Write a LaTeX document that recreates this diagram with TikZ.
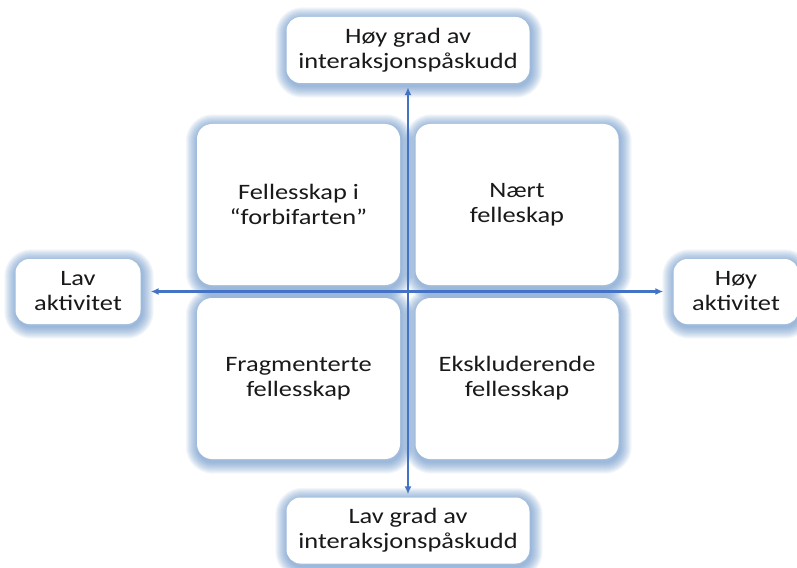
\documentclass[tikz,border=0pt]{standalone}
\usepackage{fontspec}
\setmainfont[FakeStretch=1.2]{Carlito}
\usetikzlibrary{positioning,shapes,arrows.meta,backgrounds}
\definecolor{glowblue}{RGB}{79,129,189}
\definecolor{axisblue}{RGB}{68,114,196}

\begin{document}
\begin{tikzpicture}[x=1pt,y=-1pt,
mybox/.style = {fill=white, rounded corners=15pt, align=center, inner sep=0pt, text=black!90, font=\fontsize{22}{25}\selectfont},
myquad/.style = {mybox, minimum width=203pt, minimum height=161pt},
mylabel/.style = {mybox, rounded corners=14pt, minimum width=243pt, minimum height=66pt},
myside/.style = {mylabel, minimum width=125pt, minimum height=65pt},
myglow/.style = {draw=glowblue, opacity=0.065, rounded corners=15pt},
myaxis/.style = {draw=axisblue, line width=2.9pt, {Latex[length=8pt,width=7pt]}-{Latex[length=8pt,width=7pt]}}]
\useasboundingbox (0,0) rectangle (797,567);
\node[myquad] (forbi) at (298.5,204.5) {Fellesskap i\\“forbifarten”};
\node[myquad] (naert) at (517,204.5) {Nært\\felleskap};
\node[myquad] (fragment) at (298.5,378.5) {Fragmenterte\\fellesskap};
\node[myquad] (ekskl) at (517,378.5) {Ekskluderende\\fellesskap};
\node[mylabel] (hoygrad) at (408,50) {Høy grad av\\interaksjonspåskudd};
\node[mylabel] (lavgrad) at (408,530.5) {Lav grad av\\interaksjonspåskudd};
\node[myside] (lavakt) at (78,291.5) {Lav\\aktivitet};
\node[myside] (hoyakt) at (736,291.5) {Høy\\aktivitet};
\begin{pgfonlayer}{background}
\foreach \n in {forbi,naert,fragment,ekskl,hoygrad,lavgrad,lavakt,hoyakt}
  \foreach \w in {2,4,...,24}
    \draw[myglow, line width=\w pt] ([shift={(1,2.5)}]\n.north west) rectangle ([shift={(1,2.5)}]\n.south east);
\end{pgfonlayer}
\draw[myaxis, shorten <=3pt, shorten >=4pt] (lavgrad) -- (hoygrad);
\draw[myaxis, shorten <=10pt, shorten >=10pt] (lavakt) -- (hoyakt);
\end{tikzpicture}
\end{document}
